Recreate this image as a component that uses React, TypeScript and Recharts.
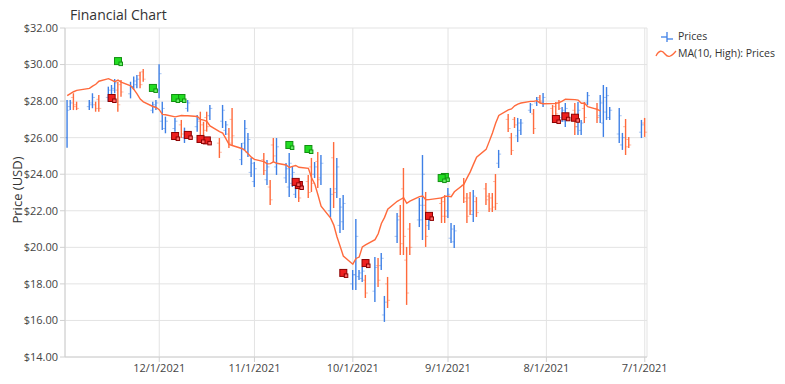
import React from 'react';
import { ComposedChart, Bar, Line, Scatter, XAxis, YAxis, CartesianGrid } from 'recharts';

// trading days, Jul 1 .. Dec 30 2021
const dates = [
  '7/1', '7/2', '7/6', '7/7', '7/8', '7/9', '7/12', '7/13', '7/14', '7/15', '7/16', '7/19', '7/20', '7/21', '7/22', '7/23', '7/26', '7/27', '7/28', '7/29', '7/30',
  '8/2', '8/3', '8/4', '8/5', '8/6', '8/9', '8/10', '8/11', '8/12', '8/13', '8/16', '8/17', '8/18', '8/19', '8/20', '8/23', '8/24', '8/25', '8/26', '8/27', '8/30', '8/31',
  '9/1', '9/2', '9/3', '9/7', '9/8', '9/9', '9/10', '9/13', '9/14', '9/15', '9/16', '9/17', '9/20', '9/21', '9/22', '9/23', '9/24', '9/27', '9/28', '9/29', '9/30',
  '10/1', '10/4', '10/5', '10/6', '10/7', '10/8', '10/11', '10/12', '10/13', '10/14', '10/15', '10/18', '10/19', '10/20', '10/21', '10/22', '10/25', '10/26', '10/27', '10/28', '10/29',
  '11/1', '11/2', '11/3', '11/4', '11/5', '11/8', '11/9', '11/10', '11/11', '11/12', '11/15', '11/16', '11/17', '11/18', '11/19', '11/22', '11/23', '11/24', '11/26', '11/29', '11/30',
  '12/1', '12/2', '12/3', '12/6', '12/7', '12/8', '12/9', '12/10', '12/13', '12/14', '12/15', '12/16', '12/17', '12/20', '12/21', '12/22', '12/23', '12/27', '12/28', '12/29', '12/30',
];

const opens = [
  26.8, 26.3, 25.9, 26.6, 25.6, 26.2, 27.1, 27.4, 26.8, 27.2, 27.6, 27.9, 27.6, 26.4, 26.6, 27.5, 26.9, 27.1, 27.9, 27.7, 27.6,
  27.9, 28.2, 27.9, 27.3, 27.5, 26.4, 26.1, 27.0, 26.0, 27.0, 24.6, 23.6, 22.7, 22.8, 23.2, 22.5, 21.8, 22.7, 22.5, 23.4, 20.3, 20.5,
  22.0, 22.5, 22.4, 21.2, 22.3, 21.5, 21.5, 21.0, 19.3, 23.2, 21.7, 20.6, 18.0, 16.3, 19.0, 19.0, 17.6, 18.2, 18.3, 18.4, 18.5,
  18.0, 21.4, 21.2, 23.2, 24.9, 22.0, 23.8, 24.7, 24.0, 24.4, 23.6, 23.2, 22.9, 23.5, 23.3, 23.8, 24.4, 25.6, 23.3, 23.7, 24.8,
  23.6, 24.1, 25.2, 25.7, 24.8, 27.0, 26.2, 26.4, 26.9, 25.7, 27.2, 27.1, 26.7, 26.9, 26.6, 27.6, 26.0, 26.7, 26.5, 26.5, 26.9,
  28.6, 27.7, 27.5, 29.6, 29.4, 28.9, 28.8, 28.4, 28.9, 28.6, 28.6, 28.3, 28.2, 28.1, 27.8, 27.8, 27.7, 27.8, 28.2, 27.7, 26.0,
];

const highs = [
  27.08, 26.97, 26.04, 27.02, 26.26, 27.62, 27.68, 28.77, 28.88, 28.33, 27.9, 28.5, 27.95, 26.97, 27.95, 27.9, 27.9, 27.68, 28.06, 27.95, 27.79,
  28.44, 28.33, 28.23, 27.57, 27.9, 27.02, 27.08, 27.13, 26.26, 27.3, 25.33, 24.01, 22.97, 22.97, 23.52, 22.75, 23.14, 23.03, 22.97, 23.79, 21.22, 21.33,
  23.25, 22.86, 22.75, 21.77, 23.03, 25.05, 22.7, 21.33, 20.02, 24.34, 22.32, 21.88, 18.38, 17.34, 19.69, 19.42, 19.47, 18.49, 18.93, 18.76, 21.55,
  18.76, 22.86, 22.7, 24.89, 25.76, 23.25, 25.05, 25.22, 24.67, 24.89, 23.96, 23.41, 23.69, 24.4, 25.16, 24.61, 25.98, 25.98, 23.69, 24.78, 25.16,
  24.67, 24.89, 26.26, 26.97, 25.71, 27.62, 26.53, 26.91, 27.79, 25.98, 27.79, 27.42, 26.87, 27.42, 27.24, 28.06, 26.55, 26.97, 27.08, 27.15, 27.97,
  30.01, 28.06, 27.97, 29.76, 29.61, 29.43, 29.34, 29.06, 29.16, 29.06, 29.21, 28.88, 28.79, 28.33, 27.97, 28.43, 28.06, 27.97, 28.43, 28.06, 28.06,
];

const lows = [
  26.04, 25.98, 25.44, 25.05, 25.33, 25.71, 26.97, 26.97, 26.04, 26.8, 26.8, 27.79, 26.8, 26.15, 26.15, 26.15, 26.58, 26.86, 27.51, 27.08, 26.97,
  27.68, 27.9, 27.73, 26.2, 27.35, 26.15, 25.76, 26.53, 25.05, 26.31, 24.34, 22.04, 21.93, 21.93, 22.32, 21.66, 21.39, 21.77, 21.33, 22.43, 19.97, 20.24,
  21.61, 21.33, 21.33, 20.95, 20.02, 20.4, 21.11, 19.58, 16.85, 19.58, 19.58, 20.24, 16.68, 15.92, 18.76, 17.83, 17.01, 17.23, 18.1, 18.21, 17.67,
  17.67, 20.95, 20.79, 22.7, 22.15, 21.66, 23.41, 23.25, 23.79, 23.03, 22.7, 22.48, 22.7, 23.3, 22.75, 23.52, 23.96, 24.67, 22.32, 23.41, 23.96,
  23.3, 23.85, 24.94, 25.33, 24.5, 25.6, 25.44, 26.15, 26.53, 24.89, 26.97, 26.33, 26.15, 25.71, 26.33, 27.42, 25.71, 25.98, 26.33, 26.24, 26.42,
  28.15, 27.51, 27.33, 29.06, 28.7, 28.7, 28.61, 28.15, 28.24, 27.42, 28.43, 28.15, 27.97, 27.42, 27.42, 27.61, 27.51, 27.51, 27.51, 27.51, 25.45,
];

const closes = [
  26.3, 26.7, 25.6, 25.5, 26.0, 27.2, 27.5, 28.3, 28.2, 27.9, 27.1, 28.3, 27.1, 26.8, 27.5, 26.6, 27.6, 27.5, 27.6, 27.3, 27.2,
  28.2, 28.0, 28.1, 26.5, 27.8, 26.8, 26.8, 26.7, 25.3, 26.5, 25.1, 22.4, 22.2, 22.1, 22.6, 21.9, 22.8, 22.0, 21.7, 22.7, 20.9, 21.0,
  22.9, 21.7, 21.7, 21.5, 20.6, 24.0, 22.3, 20.0, 17.5, 20.6, 20.2, 21.5, 17.1, 17.0, 19.4, 18.2, 18.9, 17.5, 18.7, 18.6, 20.6,
  18.5, 22.4, 22.2, 24.4, 23.0, 22.9, 24.6, 23.7, 24.4, 23.5, 23.0, 22.7, 23.4, 24.1, 24.6, 24.3, 25.5, 25.0, 22.6, 24.4, 24.2,
  24.3, 24.6, 25.9, 26.5, 25.4, 26.1, 25.7, 26.7, 27.5, 25.2, 27.6, 26.6, 26.4, 26.1, 27.0, 27.9, 26.3, 26.2, 26.9, 26.9, 27.6,
  29.5, 27.9, 27.8, 29.2, 28.9, 29.2, 29.1, 28.8, 28.5, 27.8, 29.0, 28.7, 28.6, 27.6, 27.6, 28.2, 27.9, 27.6, 27.7, 27.9, 27.5,
];

// signal markers
const buyDates = ['9/2', '9/3', '10/15', '10/21', '11/24', '11/26', '12/3', '12/14'];
const buyPrices = [23.85, 23.79, 25.38, 25.6, 28.17, 28.17, 28.72, 30.19];
const sellDates = ['7/23', '7/26', '7/29', '9/7', '9/27', '10/4', '10/18', '10/19', '11/16', '11/18', '11/22', '11/26', '12/16'];
const sellPrices = [27.09, 27.17, 27.02, 21.72, 19.14, 18.6, 23.41, 23.58, 25.85, 25.93, 26.15, 26.09, 28.17];

const monthTicks = ['7/1', '8/1', '9/1', '10/1', '11/1', '12/1'];
const priceTicks = [14, 16, 18, 20, 22, 24, 26, 28, 30, 32];

const UP = '#3f80e6';
const DOWN = '#ff6a3c';
const FONT = '"Open Sans", "Noto Sans", sans-serif';
const DAY = 86400000;

const toTime = (md: string) => {
  const [m, d] = md.split('/').map(Number);
  return Date.UTC(2021, m - 1, d);
};

const rows = dates.map((d, i) => {
  const win = highs.slice(Math.max(0, i - 9), i + 1);
  return {
    t: toTime(d),
    open: opens[i],
    high: highs[i],
    low: lows[i],
    close: closes[i],
    range: [lows[i], highs[i]],
    ma: i >= 9 ? win.reduce((a, b) => a + b, 0) / 10 : null,
  };
});

const buyRows = buyDates.map((d, i) => ({ t: toTime(d), price: buyPrices[i] }));
const sellRows = sellDates.map((d, i) => ({ t: toTime(d), price: sellPrices[i] }));

function OhlcShape(props: any) {
  const { x, y, width, height, payload } = props;
  if (!payload) return null;
  const { open, close, high, low } = payload;
  const top = Math.min(y, y + height);
  const bottom = Math.max(y, y + height);
  const cx = x + width / 2;
  const span = high - low || 1;
  const yOpen = top + ((high - open) / span) * (bottom - top);
  const yClose = top + ((high - close) / span) * (bottom - top);
  const color = close >= open ? UP : DOWN;
  return (
    <g>
      <line x1={cx} x2={cx} y1={top} y2={bottom} stroke={color} strokeWidth={1.4} />
      <line x1={cx - 2.5} x2={cx} y1={yOpen} y2={yOpen} stroke={color} strokeOpacity={0.45} />
      <line x1={cx} x2={cx + 2.5} y1={yClose} y2={yClose} stroke={color} strokeOpacity={0.45} />
    </g>
  );
}

function SignalMarker(props: any) {
  const { cx, cy, fill, light, edge } = props;
  if (cx == null || cy == null) return null;
  return (
    <g>
      <rect x={cx - 3.5} y={cy - 3.5} width={7} height={7} fill={fill} stroke={edge} strokeWidth={1} />
      <rect x={cx + 1} y={cy + 1} width={3.5} height={3.5} fill={light} stroke={edge} strokeWidth={1} />
    </g>
  );
}

const fmtDate = (v: number) => {
  const d = new Date(v);
  return `${d.getUTCMonth() + 1}/${d.getUTCDate()}/${d.getUTCFullYear()}`;
};

export default function App() {
  return (
    <div style={{ position: 'relative', width: 777, height: 376, fontFamily: FONT }}>
      <div style={{ position: 'absolute', left: 62, top: -3, fontSize: 14, color: '#333', lineHeight: '20px' }}>
        Financial Chart
      </div>
      <div
        style={{
          position: 'absolute', left: 9, top: 182, fontSize: 13, color: '#333', whiteSpace: 'nowrap',
          transform: 'translate(-50%, -50%) rotate(-90deg)',
        }}
      >
        Price (USD)
      </div>
      <div
        style={{
          position: 'absolute', left: 647, top: 20, fontSize: 10.5, color: '#333', lineHeight: '17px',
          whiteSpace: 'nowrap', width: 140,
        }}
      >
        <div style={{ display: 'flex', alignItems: 'center' }}>
          <svg width={22} height={14} style={{ marginRight: 1, flex: 'none' }}>
            <line x1={6} x2={12} y1={7} y2={7} stroke={UP} strokeWidth={1.3} />
            <line x1={12} x2={12} y1={2} y2={12} stroke={UP} strokeWidth={1.3} />
            <line x1={12} x2={18} y1={9} y2={9} stroke={UP} strokeWidth={1.3} />
          </svg>
          <span>Prices</span>
        </div>
        <div style={{ display: 'flex', alignItems: 'center' }}>
          <svg width={22} height={14} style={{ marginRight: 1, flex: 'none' }}>
            <path d="M1,9 C4,3 7,3 10,7 C13,11 16,10 21,4" fill="none" stroke={DOWN} strokeWidth={1.3} />
          </svg>
          <span>MA(10, High): Prices</span>
        </div>
      </div>
      <ComposedChart
        width={777}
        height={376}
        data={rows}
        margin={{ top: 20, right: 138, bottom: 5, left: 0 }}
      >
        <CartesianGrid stroke="#e3e3e3" />
        <XAxis
          dataKey="t"
          type="number"
          scale="time"
          reversed
          domain={[toTime('7/1') - 0.7 * DAY, toTime('12/30') + 0.7 * DAY]}
          ticks={monthTicks.map(toTime)}
          tickFormatter={fmtDate}
          height={22}
          tickSize={5}
          stroke="#d0d0d0"
          tick={{ fontSize: 11, fill: '#444', fontFamily: FONT }}
        />
        <YAxis
          type="number"
          domain={[14, 32]}
          ticks={priceTicks}
          tickFormatter={(v: number) => `$${v.toFixed(2)}`}
          width={57}
          tickSize={5}
          stroke="#d0d0d0"
          tick={{ fontSize: 11, fill: '#444', fontFamily: FONT }}
        />
        <Bar dataKey="range" barSize={4} shape={(p: any) => <OhlcShape {...p} />} isAnimationActive={false} />
        <Line dataKey="ma" stroke={DOWN} strokeWidth={1.4} dot={false} type="linear" isAnimationActive={false} />
        <Scatter
          data={buyRows}
          dataKey="price"
          shape={(p: any) => <SignalMarker {...p} fill="#22dd22" light="#66f066" edge="#119011" />}
          isAnimationActive={false}
        />
        <Scatter
          data={sellRows}
          dataKey="price"
          shape={(p: any) => <SignalMarker {...p} fill="#ee1f1f" light="#ff6a6a" edge="#8c0000" />}
          isAnimationActive={false}
        />
      </ComposedChart>
    </div>
  );
}
